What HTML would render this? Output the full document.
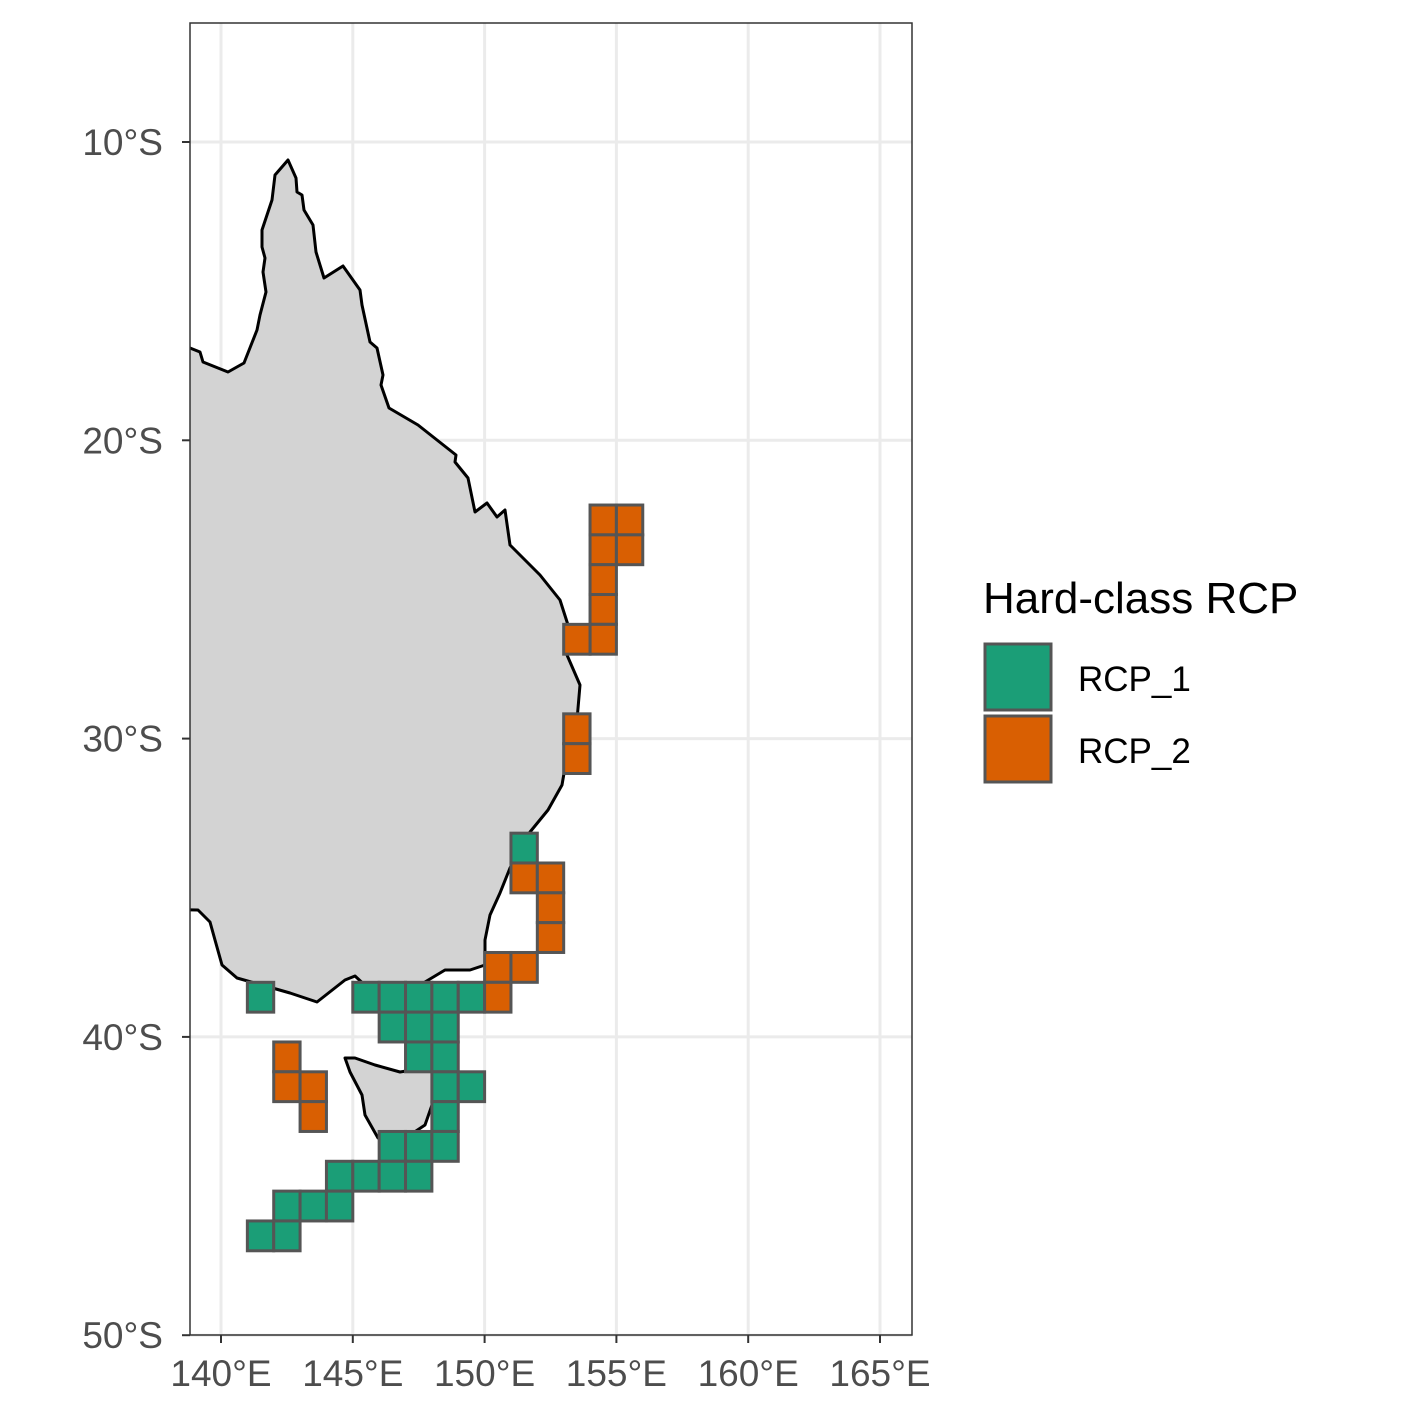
<!DOCTYPE html>
<html><head><meta charset="utf-8"><style>
body{margin:0;background:#fff;}
svg text{font-family:"Liberation Sans",sans-serif;}
</style></head><body>
<svg id="chart" width="1417" height="1417" xmlns="http://www.w3.org/2000/svg">
<defs><clipPath id="pc"><rect x="190" y="23" width="722" height="1312"/></clipPath></defs>
<rect x="0" y="0" width="1417" height="1417" fill="#fff"/>
<g id="grid"></g>
<g clip-path="url(#pc)">
<path fill="#d3d3d3" stroke="#000" stroke-width="3" stroke-linejoin="round"
d="M150,348 L190,348 L200,352 L203,362 L228,372 L244,363 L257,330 L260,315 L266,292 L263,272 L265,258 L262,247 L262,230 L266,218 L272,200 L275,175 L288,160 L296,178 L297,192 L302,195 L304,210 L313,225 L316,252 L324,278 L343,266 L360,290 L362,305 L370,342 L377,348 L383,375 L381,385 L389,408 L418,425 L437,440 L456,455 L455,462 L468,478 L475,512 L487,503 L497,517 L505,510 L510,545 L540,575 L560,600 L568,625 L567,655 L580,685 L577,720 L568,750 L562,785 L548,810 L530,832 L520,850 L510,868 L500,893 L490,915 L485,940 L485,965 L470,970 L445,970 L420,985 L410,990 L395,998 L380,1000 L370,990 L355,976 L345,980 L317,1002 L290,993 L262,985 L237,978 L222,965 L215,940 L210,922 L198,910 L150,909 Z"/>
<path fill="#d3d3d3" stroke="#000" stroke-width="3" stroke-linejoin="round"
d="M345,1058 L350,1072 L362,1095 L365,1115 L378,1138 L392,1143 L410,1135 L425,1125 L432,1105 L440,1085 L440,1063 L425,1068 L400,1072 L375,1065 L355,1058 Z"/>
<g id="cells"></g>
</g>
<rect x="190" y="23" width="722" height="1312" fill="none" stroke="#333" stroke-width="1.5"/>
<g id="axes"></g>
<g>
<text x="983" y="613" font-size="44" fill="#000">Hard-class RCP</text>
<rect x="985" y="644" width="66" height="66" fill="#1b9e77" stroke="#555" stroke-width="3"/>
<rect x="985" y="716" width="66" height="66" fill="#d95f02" stroke="#555" stroke-width="3"/>
<text x="1078" y="691" font-size="35" fill="#000">RCP_1</text>
<text x="1078" y="763" font-size="35" fill="#000">RCP_2</text>
</g>
</svg>
<script>
const xTicks=[140,145,150,155,160,165];
const yTicks=[10,20,30,40,50];
const xTickLabels=["140°E","145°E","150°E","155°E","160°E","165°E"];
const yTickLabels=["10°S","20°S","30°S","40°S","50°S"];
// RCP_1 cells: left lon, top lat (°S)
const lons1=[151,141,145,146,147,148,149,146,147,148,147,148,148,149,148,146,147,148,144,145,146,147,142,143,144,141,142];
const lats1=[33.17,38.17,38.17,38.17,38.17,38.17,38.17,39.17,39.17,39.17,40.17,40.17,41.17,41.17,42.17,43.17,43.17,43.17,44.17,44.17,44.17,44.17,45.17,45.17,45.17,46.17,46.17];
// RCP_2 cells
const lons2=[154,155,154,155,154,154,154,153,153,153,151,152,152,152,150,151,150,142,142,143,143];
const lats2=[22.17,22.17,23.17,23.17,24.17,25.17,26.17,26.17,29.17,30.17,34.17,34.17,35.17,36.17,37.17,37.17,38.17,40.17,41.17,41.17,42.17];
const X=lon=>221+(lon-140)*26.36;
const Y=lat=>142+(lat-10)*29.83;
const NS="http://www.w3.org/2000/svg";
function mk(t,a){const e=document.createElementNS(NS,t);for(const k in a)e.setAttribute(k,a[k]);return e;}
const grid=document.getElementById('grid');
xTicks.forEach(v=>{const l=mk('line',{x1:X(v),x2:X(v),y1:23,y2:1335,stroke:'#ebebeb','stroke-width':3});

grid.appendChild(l);});
yTicks.forEach(v=>{const l=mk('line',{x1:190,x2:912,y1:Y(v),y2:Y(v),stroke:'#ebebeb','stroke-width':3});

grid.appendChild(l);});
const cells=document.getElementById('cells');
function drawCells(lons,lats,fill,name){lons.forEach((lon,i)=>{const x0=X(lon),x1=X(lon+1),y0=Y(lats[i]),y1=Y(lats[i]+1);
const r=mk('rect',{x:x0,y:y0,width:x1-x0,height:y1-y0,fill:fill,stroke:'#555','stroke-width':3});

cells.appendChild(r);});}
drawCells(lons1,lats1,'#1b9e77','rcp1-cell');
drawCells(lons2,lats2,'#d95f02','rcp2-cell');
const axes=document.getElementById('axes');
xTicks.forEach((v,i)=>{const t=mk('line',{x1:X(v),x2:X(v),y1:1335,y2:1343,stroke:'#333','stroke-width':2});

axes.appendChild(t);
const tx=mk('text',{x:X(v),y:1386,'font-size':37,fill:'#4d4d4d','text-anchor':'middle'});tx.textContent=xTickLabels[i];

axes.appendChild(tx);});
yTicks.forEach((v,i)=>{const t=mk('line',{x1:182,x2:190,y1:Y(v),y2:Y(v),stroke:'#333','stroke-width':2});

axes.appendChild(t);
const tx=mk('text',{x:163,y:Y(v)+13,'font-size':37,fill:'#4d4d4d','text-anchor':'end'});tx.textContent=yTickLabels[i];

axes.appendChild(tx);});
</script>
</body></html>
